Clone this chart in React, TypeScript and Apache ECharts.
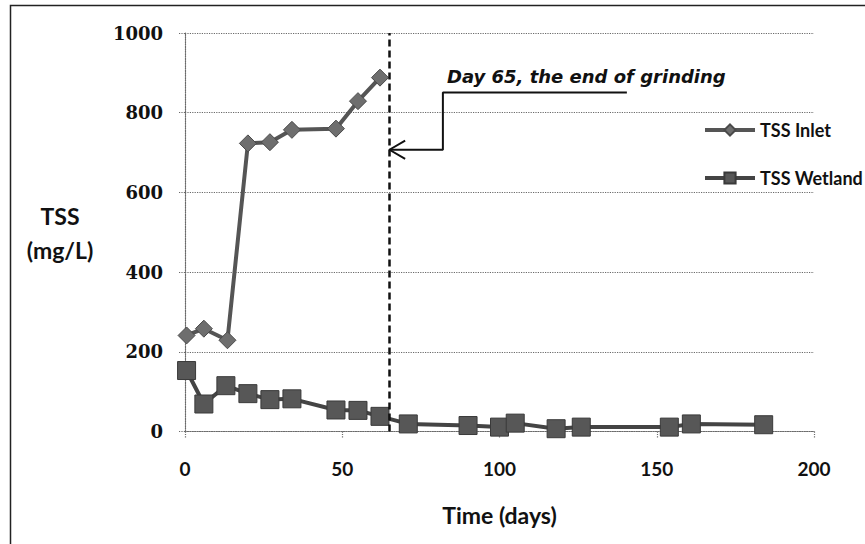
import React, { useEffect, useRef } from "react";
import * as echarts from "echarts";

// ---- data ----
const inletDays = [0.5, 6, 13.5, 20, 27, 34, 48, 55, 62];
const inletTSS = [241, 258, 229, 723, 726, 757, 760, 829, 888];

const wetlandDays = [0.5, 6, 13, 20, 27, 34, 48, 55, 62, 71, 90, 100, 105, 118, 126, 154, 161, 184];
const wetlandTSS = [153, 69, 115, 95, 80, 82, 54, 53, 38, 19, 15, 11, 21, 7, 11, 11, 19, 17];

const seriesNames = ["TSS Inlet", "TSS Wetland"];
const xTicks = [0, 50, 100, 150, 200];
const yTicks = [0, 200, 400, 600, 800, 1000];

// annotation (data space)
const endOfGrindingDay = 65;
const annotationText = "Day 65, the end of grinding";
const calloutPath = [
  [140.5, 851],
  [82, 851],
  [82, 707],
  [65, 707],
];
const arrowHead = [
  [70, 730],
  [65, 707],
  [70, 684],
];

const LABEL_FONT = "Lato, 'Open Sans', sans-serif";

export default function App() {
  const ref = useRef<HTMLDivElement>(null);

  useEffect(() => {
    if (!ref.current) return;
    const chart = echarts.init(ref.current, null, { renderer: "svg" });

    const pair = (xs: number[], ys: number[]) => xs.map((x, i) => [x, ys[i]]);

    const gridStroke = { color: "#6a6a6a", width: 1.2, type: "dotted" as const };

    chart.setOption({
      animation: false,
      backgroundColor: "#ffffff",
      grid: { left: 185, right: 51, top: 33, bottom: 112.5, containLabel: false },
      xAxis: {
        type: "value",
        min: xTicks[0],
        max: xTicks[xTicks.length - 1],
        interval: xTicks[1] - xTicks[0],
        name: "Time (days)",
        nameLocation: "middle",
        nameGap: 72,
        nameTextStyle: { fontFamily: LABEL_FONT, fontWeight: "bold", fontSize: 23, color: "#111" },
        axisLine: { show: true, onZero: false, lineStyle: gridStroke },
        axisTick: { show: true, length: 7, lineStyle: gridStroke },
        splitLine: { show: false },
        axisLabel: {
          margin: 27,
          fontFamily: LABEL_FONT,
          fontWeight: "bold",
          fontSize: 19,
          color: "#111",
          formatter: (v: number) => String(v),
        },
      },
      yAxis: {
        type: "value",
        min: yTicks[0],
        max: yTicks[yTicks.length - 1],
        interval: yTicks[1] - yTicks[0],
        axisLine: { show: true, lineStyle: gridStroke },
        axisTick: { show: true, length: 7, lineStyle: gridStroke },
        splitLine: { show: true, lineStyle: gridStroke },
        axisLabel: {
          margin: 22,
          fontFamily: "'DejaVu Serif', serif",
          fontWeight: "bold",
          fontSize: 18,
          color: "#111",
          formatter: (v: number) => String(v),
        },
      },
      legend: {
        data: seriesNames,
        orient: "vertical",
        left: 698,
        top: 115,
        itemWidth: 50,
        itemHeight: 14,
        itemGap: 28,
        lineStyle: { width: 4 },
        textStyle: {
          fontFamily: LABEL_FONT,
          fontWeight: "bold",
          fontSize: 18,
          color: "#111",
          lineHeight: 20,
        },
      },
      graphic: [
        {
          type: "rect",
          shape: { x: 10.5, y: 5.5, width: 1200, height: 1200 },
          style: { fill: "none", stroke: "#222", lineWidth: 1.5 },
          silent: true,
          z: 100,
        },
        {
          type: "text",
          x: 60,
          y: 233,
          style: {
            text: "TSS\n(mg/L)",
            fontFamily: LABEL_FONT,
            fontWeight: "bold",
            fontSize: 23,
            lineHeight: 34,
            fill: "#111",
            align: "center",
            verticalAlign: "middle",
          },
        },
        {
          type: "text",
          x: 447,
          y: 76.5,
          style: {
            text: annotationText,
            fontFamily: "'DejaVu Sans', Verdana, sans-serif",
            fontWeight: "bold",
            fontStyle: "italic",
            fontSize: 18,
            fill: "#111",
            align: "left",
            verticalAlign: "middle",
          },
        },
      ],
      series: [
        {
          name: seriesNames[0],
          type: "line",
          data: pair(inletDays, inletTSS),
          symbol: "diamond",
          symbolSize: 17,
          lineStyle: { color: "#555", width: 4 },
          itemStyle: { color: "#6e6e6e", borderColor: "#4a4a4a", borderWidth: 1 },
          z: 3,
        },
        {
          name: seriesNames[1],
          type: "line",
          data: pair(wetlandDays, wetlandTSS),
          symbol: "rect",
          symbolSize: 18,
          lineStyle: { color: "#444", width: 4 },
          itemStyle: { color: "#575757", borderColor: "#3a3a3a", borderWidth: 1 },
          z: 3,
        },
        {
          name: "callout",
          type: "line",
          data: calloutPath,
          symbol: "none",
          silent: true,
          lineStyle: { color: "#111", width: 2 },
          z: 4,
          markLine: {
            silent: true,
            symbol: "none",
            label: { show: false },
            lineStyle: { color: "#111", width: 2.5, type: [7, 4] },
            data: [{ xAxis: endOfGrindingDay }],
          },
        },
        {
          name: "arrowhead",
          type: "line",
          data: arrowHead,
          symbol: "none",
          silent: true,
          lineStyle: { color: "#111", width: 2 },
          z: 4,
        },
      ],
    });

    return () => {
      chart.dispose();
    };
  }, []);

  return (
    <div
      ref={ref}
      style={{ position: "fixed", left: 0, top: 0, width: 865, height: 544, background: "#fff" }}
    />
  );
}
